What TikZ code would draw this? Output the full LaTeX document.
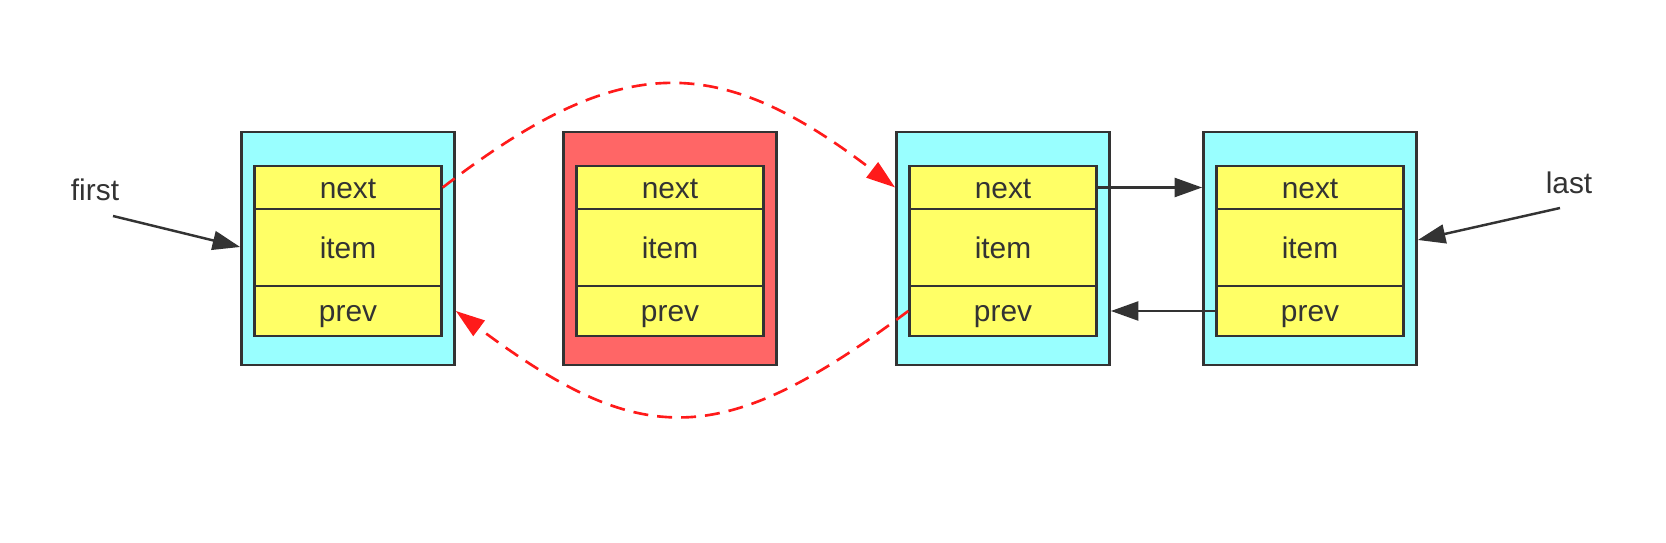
\documentclass[tikz,border=0pt]{standalone}
\usepackage{fontspec}
\setmainfont{Liberation Sans}
\usetikzlibrary{arrows.meta}
\definecolor{linegray}{HTML}{333333}
\definecolor{nodecyan}{HTML}{99FFFF}
\definecolor{nodered}{HTML}{FF6666}
\definecolor{cellyellow}{HTML}{FFFF66}
\definecolor{linkred}{HTML}{FF1A1A}
\tikzset{
    outerbox/.style={draw=linegray, line width=1.6pt, minimum width=4.26cm, minimum height=4.66cm, inner sep=0pt},
    cell/.style={draw=linegray, line width=1.4pt, fill=cellyellow, minimum width=3.74cm, inner sep=0pt,
        text height=0.52cm, text depth=0.09cm, text=linegray, font=\fontsize{17}{20}\selectfont},
    label/.style={text=linegray, font=\fontsize{17}{20}\selectfont},
    link/.style={draw=linegray, line width=1.4pt, -{Triangle[length=0.55cm, width=0.38cm]}},
    redlink/.style={draw=linkred, line width=1.5pt, dash pattern=on 0.3cm off 0.18cm,
        -{Triangle[length=0.58cm, width=0.38cm]}}
}
\begin{document}
\begin{tikzpicture}
    \begin{scope}[x=0.02cm, y=-0.02cm]
    \useasboundingbox (0, 0) rectangle (1666, 543);
    % The four list nodes, each with its three fields
    \foreach \name/\cx/\col in {a/348/nodecyan, b/670/nodered, c/1003/nodecyan, d/1310/nodecyan}
    {
        \node[outerbox, fill=\col] (\name) at (\cx, 248.5) {};
        \node[cell, minimum height=0.86cm] (\name-next) at (\cx, 187.5) {next};
        \node[cell, minimum height=1.54cm] (\name-item) at (\cx, 247.5) {item};
        \node[cell, minimum height=1.0cm] (\name-prev) at (\cx, 311) {prev};
    }
    % Pointers first and last
    \node[label] (first) at (95, 190) {first};
    \coordinate (firsttail) at (113, 216);
    \draw[link] (firsttail) -- (a.west |- 0, 247);
    \node[label] (last) at (1569, 183) {last};
    \coordinate (lasttail) at (1560, 208);
    \draw[link] (lasttail) -- (d.east |- 0, 240);
    % Links between c and d
    \draw[link] (c-next.east) -- (d.west |- c-next);
    \draw[link] (d-prev.west) -- (c.east |- d-prev);
    % New links that skip the removed node b
    \draw[redlink] (a-next.east) .. controls (620, 51) and (717, 51) .. (c.west |- c-next);
    \draw[redlink] (c-prev.west) .. controls (722, 450) and (642, 450) .. (a.east |- a-prev);
    \end{scope}
\end{tikzpicture}
\end{document}
